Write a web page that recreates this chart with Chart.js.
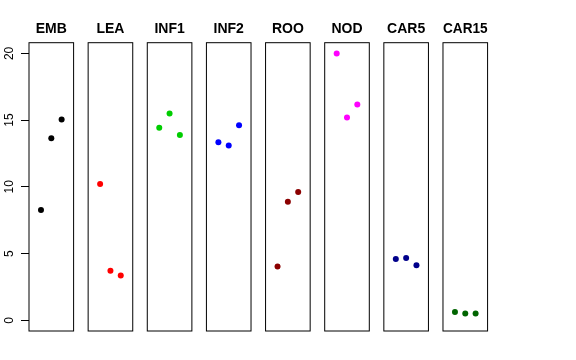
<!DOCTYPE html>
<html>
<head>
<meta charset="utf-8">
<script src="https://cdn.jsdelivr.net/npm/chart.js@4.4.1/dist/chart.umd.min.js"></script>
<style>
  body { margin: 0; background: #fff; }
  #wrap { position: relative; width: 576px; height: 360px; overflow: hidden; }
  #wrap canvas { position: absolute; top: 0; }
</style>
</head>
<body>
<div id="wrap"></div>
<script>
// panel names and colours
const groups = ['EMB', 'LEA', 'INF1', 'INF2', 'ROO', 'NOD', 'CAR5', 'CAR15'];
const colors = ['#000000', '#ff0000', '#00cd00', '#0000ff', '#8b0000', '#ff00ff', '#00008b', '#006400'];

// x position of the three points inside each panel
const xPos = [1, 2, 3];

// values
const emb   = [8.26, 13.65, 15.05];
const lea   = [10.21, 3.72, 3.35];
const inf1  = [14.42, 15.49, 13.88];
const inf2  = [13.35, 13.10, 14.62];
const roo   = [4.04, 8.88, 9.61];
const nod   = [19.99, 15.19, 16.17];
const car5  = [4.59, 4.67, 4.12];
const car15 = [0.63, 0.52, 0.52];
const values = [emb, lea, inf1, inf2, roo, nod, car5, car15];

const yTicks = [0, 5, 10, 15, 20];

const font = 'Liberation Sans, Arial, Helvetica, sans-serif';
const H = 360;
const panelLeft = 29, panelStep = 59.14, panelWidth = 44.6;
const panelBottom = 331;
const margin = 7;

// box round each panel
const boxPlugin = {
  id: 'box',
  beforeDatasetsDraw(chart) {
    const a = chart.chartArea, c = chart.ctx;
    c.save();
    c.strokeStyle = '#000';
    c.lineWidth = 1;
    c.strokeRect(a.left, a.top, a.right - a.left, a.bottom - a.top);
    c.restore();
  }
};

const wrap = document.getElementById('wrap');

groups.forEach((name, i) => {
  const first = i === 0;
  const left = panelLeft + panelStep * i;
  const cssLeft = first ? 0 : Math.floor(left) - margin;
  const cssWidth = Math.ceil(left + panelWidth) + margin - cssLeft;

  const cv = document.createElement('canvas');
  cv.width = cssWidth; cv.height = H;
  cv.style.left = cssLeft + 'px';
  wrap.appendChild(cv);

  new Chart(cv, {
    type: 'scatter',
    data: {
      datasets: [{
        data: xPos.map((x, k) => ({ x: x, y: values[i][k] })),
        backgroundColor: colors[i],
        borderWidth: 0,
        pointRadius: 3,
        pointHoverRadius: 3
      }]
    },
    options: {
      responsive: false,
      animation: false,
      events: [],
      layout: {
        padding: {
          left: first ? 0 : left - cssLeft,
          right: cssWidth - (left - cssLeft) - panelWidth,
          top: 0,
          bottom: H - panelBottom
        }
      },
      scales: {
        x: { type: 'linear', min: -0.16, max: 4.16, display: false },
        y: {
          type: 'linear', min: -0.8, max: 20.8,
          display: first,
          position: 'left',
          afterBuildTicks: s => { s.ticks = yTicks.map(v => ({ value: v })); },
          afterFit: s => { if (first) s.width = panelLeft; },
          grid: { drawOnChartArea: false, drawTicks: true, tickLength: 8, color: '#000', lineWidth: 1 },
          border: { display: false },
          ticks: {
            minRotation: 90, maxRotation: 90, crossAlign: 'center', padding: 4.3,
            color: '#000', font: { family: font, size: 12 }
          }
        }
      },
      plugins: {
        legend: { display: false },
        tooltip: { enabled: false },
        title: {
          display: true,
          text: name,
          fullSize: false,
          color: '#000',
          font: { family: font, size: 14, weight: 'bold' },
          padding: { top: 20.9, bottom: 5 }
        }
      }
    },
    plugins: [boxPlugin]
  });
});
</script>
</body>
</html>
